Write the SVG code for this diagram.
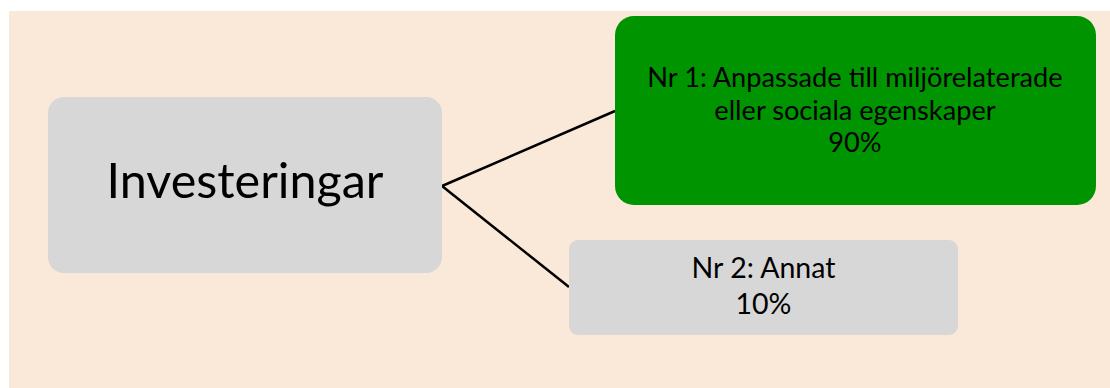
<svg xmlns="http://www.w3.org/2000/svg" width="1110" height="388" viewBox="0 0 1110 388">
<style>
.t{font-family:Lato,"Noto Sans",sans-serif;fill:#000;text-anchor:middle}
.grey{fill:#D7D7D7}
.conn{stroke:#000;stroke-width:2.5;fill:none}
</style>
<rect x="0" y="0" width="1110" height="388" fill="#FFFFFF"/>
<rect x="9" y="11" width="1101" height="377" fill="#FAE8D9"/>
<g id="connectors">
<line class="conn" x1="442" y1="186" x2="615" y2="111"/>
<line class="conn" x1="442" y1="186" x2="569" y2="287"/>
</g>
<g id="node-investeringar">
<rect class="grey" x="48" y="97" width="394" height="176" rx="16"/>
<text class="t" x="245" y="198" font-size="48.5">Investeringar</text>
</g>
<g id="node-nr1">
<rect x="615" y="16" width="481" height="189" rx="19" fill="#009400"/>
<text class="t" x="855" y="87" font-size="27.2">Nr 1: Anpassade till miljörelaterade</text>
<text class="t" x="855" y="119.5" font-size="27.2">eller sociala egenskaper</text>
<text class="t" x="855" y="152" font-size="27.2">90%</text>
</g>
<g id="node-nr2">
<rect class="grey" x="569" y="240" width="389" height="95" rx="9"/>
<text class="t" x="763.5" y="278" font-size="28.5">Nr 2: Annat</text>
<text class="t" x="763.5" y="314" font-size="28.5">10%</text>
</g>
</svg>
